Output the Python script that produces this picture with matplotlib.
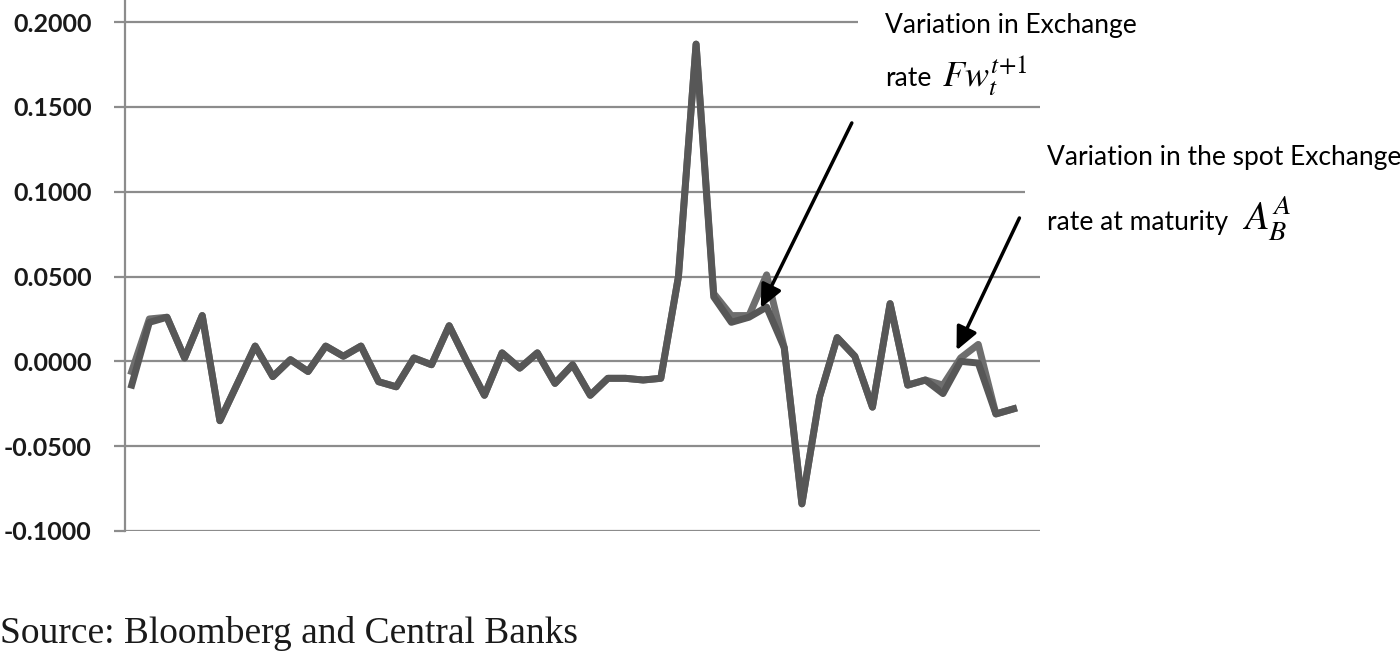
import matplotlib.pyplot as plt
from matplotlib.patches import Rectangle
import numpy as np

# values, one per period
fw_rate = [-0.014, 0.023, 0.026, 0.002, 0.027, -0.035, -0.013, 0.009, -0.009, 0.001,
           -0.006, 0.009, 0.003, 0.009, -0.012, -0.015, 0.002, -0.002, 0.021, 0.000,
           -0.020, 0.005, -0.004, 0.005, -0.013, -0.002, -0.020, -0.010, -0.010, -0.011,
           -0.010, 0.050, 0.187, 0.038, 0.023, 0.026, 0.032, 0.008, -0.084, -0.021,
           0.014, 0.003, -0.027, 0.034, -0.014, -0.011, -0.019, 0.000, -0.001, -0.031,
           -0.028]
spot_rate = [-0.006, 0.025, 0.026, 0.002, 0.027, -0.035, -0.013, 0.009, -0.009, 0.001,
             -0.006, 0.009, 0.003, 0.009, -0.012, -0.015, 0.002, -0.002, 0.021, 0.000,
             -0.020, 0.005, -0.004, 0.005, -0.013, -0.002, -0.020, -0.010, -0.010, -0.011,
             -0.010, 0.050, 0.187, 0.040, 0.027, 0.027, 0.051, 0.008, -0.084, -0.021,
             0.014, 0.003, -0.027, 0.034, -0.014, -0.011, -0.014, 0.002, 0.010, -0.031,
             -0.028]
yticks = [-0.10, -0.05, 0.0, 0.05, 0.10, 0.15, 0.20]
ytick_labels = ['%.4f' % v for v in yticks]

x = np.arange(1, len(fw_rate) + 1)

fig = plt.figure(figsize=(14, 6.53), dpi=100)
ax = fig.add_axes([125 / 1400, 1 - 531 / 653, (1040 - 125) / 1400, 531 / 653])

ax.plot(x, spot_rate, color='#6e6e6e', linewidth=5, zorder=3)
ax.plot(x, fw_rate, color='#575757', linewidth=5, zorder=4)

ax.set_xlim(0.62, 52.5)
ax.set_ylim(-0.1, 0.213)
ax.set_yticks(yticks)
ax.set_yticklabels(ytick_labels, fontfamily='Lato', fontweight='bold', fontsize=18, color='#1a1a1a')
ax.set_xticks([])
ax.yaxis.grid(True, color='#8c8c8c', linewidth=1.6)
ax.set_axisbelow(True)
ax.tick_params(axis='y', length=8, width=1.6, color='#8c8c8c', pad=16)
for s in ['top', 'right', 'bottom']:
    ax.spines[s].set_visible(False)
ax.spines['left'].set_color('#8c8c8c')
ax.spines['left'].set_linewidth(1.6)

# arrows pointing at the two series
arrow = dict(arrowstyle='-|>,head_length=1.4,head_width=0.65', color='black', lw=2.5)
ax.annotate('', xy=(36.6, 0.030), xytext=(41.9, 0.142), arrowprops=arrow,
            annotation_clip=False, zorder=6)
ax.annotate('', xy=(47.7, 0.005), xytext=(51.4, 0.086), arrowprops=arrow,
            annotation_clip=False, zorder=6)

# white boxes behind the labels hide the gridlines
fig.add_artist(Rectangle((858 / 1400, 1 - 98 / 653), 290 / 1400, 98 / 653,
                         transform=fig.transFigure, facecolor='white', edgecolor='none'))
fig.add_artist(Rectangle((1025 / 1400, 1 - 250 / 653), 375 / 1400, 118 / 653,
                         transform=fig.transFigure, facecolor='white', edgecolor='none'))

fig.text(885 / 1400, 1 - 33 / 653, 'Variation in Exchange', fontfamily='Lato', fontsize=19, va='baseline')
fig.text(885 / 1400, 1 - 86 / 653, 'rate', fontfamily='Lato', fontsize=19, va='baseline')
fig.text(942 / 1400, 1 - 86 / 653, r'$Fw_{t}^{t\!+\!1}$', math_fontfamily='stix', fontsize=26, va='baseline')
fig.text(1047 / 1400, 1 - 165 / 653, 'Variation in the spot Exchange', fontfamily='Lato', fontsize=19, va='baseline')
fig.text(1047 / 1400, 1 - 230 / 653, 'rate at maturity', fontfamily='Lato', fontsize=19, va='baseline')
fig.text(1242 / 1400, 1 - 230 / 653, r'$A_{B}^{A}$', math_fontfamily='stix', fontsize=29, va='baseline')

fig.text(0.0, 1 - 643 / 653, 'Source: Bloomberg and Central Banks', fontfamily='Liberation Serif',
         fontsize=27, va='baseline', color='#1a1a1a')

plt.savefig('out.png', dpi=100)
